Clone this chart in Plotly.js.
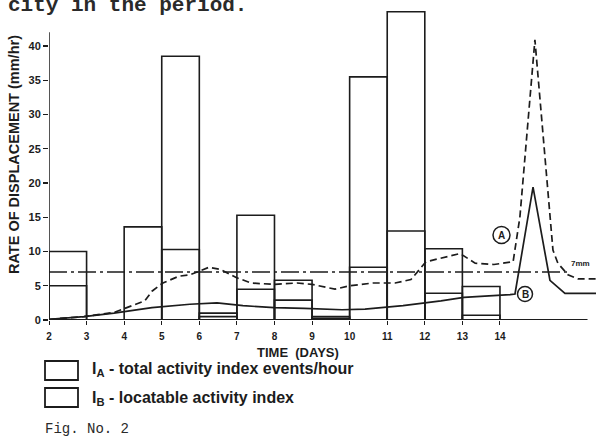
<!DOCTYPE html>
<html>
<head>
<meta charset="utf-8">
<script src="https://cdn.plot.ly/plotly-3.0.1.min.js"></script>
<style>html,body{margin:0;padding:0;background:#fff;}#chart{width:596px;height:441px;}</style>
</head>
<body>
<div id="chart"></div>
<script>
// ---- data ----
const dayStart = [2, 4, 5, 6, 7, 8, 9, 10, 11, 12, 13];          // left edge of each daily interval
const totalIndex = [10, 13.6, 38.5, 1.0, 15.3, 5.8, 0.5, 35.5, 45, 10.4, 4.9];   // I_A events/hour
const locatableIndex = [5, 0, 10.3, 0.5, 4.5, 2.9, 0.25, 7.7, 13, 3.9, 0.7];     // I_B

const curveA_days = [2.0, 2.93, 3.73, 4.34, 4.55, 4.74, 5.03, 5.46, 5.75, 6.26, 6.55, 6.98, 7.38, 7.99, 8.6, 9.0, 9.61, 10.01, 10.62, 11.21, 11.63, 12.03, 12.94, 13.34, 13.84, 14.35, 14.53, 14.93, 15.25, 15.41, 15.54, 15.81, 16.08, 16.56];
const curveA_rate = [0.1, 0.5, 1.1, 2.3, 2.8, 4.2, 5.4, 6.4, 6.6, 7.7, 7.4, 6.2, 5.4, 5.2, 5.4, 5.2, 4.5, 5.0, 5.4, 5.4, 5.9, 8.5, 9.7, 8.3, 8.1, 8.5, 15.0, 40.9, 20.0, 10.2, 8.3, 6.6, 6.0, 6.0];

const curveB_days = [2.0, 2.93, 3.73, 4.74, 5.75, 6.47, 7.16, 7.99, 8.79, 9.8, 10.41, 11.42, 12.43, 13.04, 14.27, 14.4, 14.88, 15.33, 15.73, 16.56];
const curveB_rate = [0.1, 0.5, 1.0, 1.8, 2.3, 2.5, 2.1, 1.8, 1.7, 1.5, 1.6, 2.1, 2.8, 3.3, 3.7, 3.8, 19.4, 5.8, 3.9, 3.9];

const thresholdRate = 7;           // dash-dot "7mm" line
const thresholdDays = [2, 15.8];

const xTickDays = [2, 3, 4, 5, 6, 7, 8, 9, 10, 11, 12, 13, 14];
const yTickVals = [0, 5, 10, 15, 20, 25, 30, 35, 40];

// ---- drawing ----
const ink = '#1c1c1c';
const W = 596, H = 441, L = 49, R = 0, T = 5, B = 121;
const pw = W - L - R, ph = H - T - B;
const px = x => (x - L) / pw;           // pixel -> paper
const py = y => (H - B - y) / ph;

const traces = [
  {type: 'bar', x: dayStart, y: totalIndex, offset: 0, width: 1,
   marker: {color: 'rgba(0,0,0,0)', line: {color: ink, width: 1.6}}, hoverinfo: 'skip'},
  {type: 'bar', x: dayStart, y: locatableIndex, offset: 0, width: 1,
   marker: {color: 'rgba(0,0,0,0)', line: {color: ink, width: 1.6}}, hoverinfo: 'skip'},
  {type: 'scatter', mode: 'lines', x: thresholdDays, y: thresholdDays.map(() => thresholdRate),
   line: {color: ink, width: 1.6, dash: '18px,4px,3px,4px'}},
  {type: 'scatter', mode: 'lines', x: curveA_days, y: curveA_rate,
   line: {color: ink, width: 1.7, dash: '7px,4px'}},
  {type: 'scatter', mode: 'lines', x: curveB_days, y: curveB_rate,
   line: {color: ink, width: 1.7}}
];

const boldSans = {family: 'Liberation Sans, Arial, sans-serif', color: ink, weight: 'bold'};

const layout = {
  width: W, height: H,
  margin: {l: L, r: R, t: T, b: B, pad: 0},
  paper_bgcolor: '#ffffff', plot_bgcolor: '#ffffff',
  showlegend: false, barmode: 'overlay', bargap: 0,
  xaxis: {range: [2, 2 + pw / 37.58], tickvals: xTickDays, ticktext: xTickDays.map(String),
          ticks: 'outside', ticklen: 4, tickwidth: 1, tickcolor: ink, ticklabelstandoff: 3,
          showgrid: false, zeroline: false, showline: false,
          tickfont: Object.assign({size: 10}, boldSans)},
  yaxis: {range: [0, ph / 6.85], tickvals: yTickVals, ticktext: yTickVals.map(String),
          ticks: 'outside', ticklen: 5, tickwidth: 1.2, tickcolor: ink,
          showgrid: false, zeroline: false, showline: false,
          tickfont: Object.assign({size: 11}, boldSans)},
  shapes: [
    // axes lines
    {type: 'line', xref: 'x', yref: 'y', x0: 2, x1: 16.33, y0: 0, y1: 0, line: {color: ink, width: 2.2}},
    {type: 'line', xref: 'x', yref: 'y', x0: 2, x1: 2, y0: 0, y1: 42, line: {color: ink, width: 1.5}},
    // circled curve labels
    {type: 'circle', xref: 'paper', yref: 'paper', x0: px(493), x1: px(510), y0: py(243.5), y1: py(226.5), line: {color: ink, width: 1.5}},
    {type: 'circle', xref: 'paper', yref: 'paper', x0: px(517.5), x1: px(532.5), y0: py(301.5), y1: py(286.5), line: {color: ink, width: 1.5}},
    // legend boxes
    {type: 'rect', xref: 'paper', yref: 'paper', x0: px(45), x1: px(78), y0: py(380), y1: py(361), line: {color: ink, width: 1.8}},
    {type: 'rect', xref: 'paper', yref: 'paper', x0: px(45), x1: px(78), y0: py(407), y1: py(388), line: {color: ink, width: 1.8}}
  ],
  annotations: [
    {text: 'city in the period.', xref: 'paper', yref: 'paper', x: px(6), y: py(5), xanchor: 'left', yanchor: 'middle',
     showarrow: false, font: {family: 'Liberation Mono, monospace', size: 21, color: '#2a2a2a', weight: 'bold'}},
    {text: 'RATE OF DISPLACEMENT (mm/hr)', xref: 'paper', yref: 'paper', x: px(14), y: py(155), textangle: -90,
     xanchor: 'center', yanchor: 'middle', showarrow: false, font: Object.assign({size: 14.5}, boldSans)},
    {text: 'TIME  (DAYS)', xref: 'paper', yref: 'paper', x: px(298), y: py(352), xanchor: 'center', yanchor: 'middle',
     showarrow: false, font: Object.assign({size: 13}, boldSans)},
    {text: 'A', xref: 'paper', yref: 'paper', x: px(501.5), y: py(235), xanchor: 'center', yanchor: 'middle',
     showarrow: false, font: Object.assign({size: 10}, boldSans)},
    {text: 'B', xref: 'paper', yref: 'paper', x: px(525), y: py(294), xanchor: 'center', yanchor: 'middle',
     showarrow: false, font: Object.assign({size: 10}, boldSans)},
    {text: '7mm', xref: 'paper', yref: 'paper', x: px(580), y: py(263), xanchor: 'center', yanchor: 'middle',
     showarrow: false, font: Object.assign({size: 8}, boldSans)},
    {text: 'I<sub>A</sub> - total activity index events/hour', xref: 'paper', yref: 'paper', x: px(90), y: py(370),
     xanchor: 'left', yanchor: 'middle', showarrow: false, font: Object.assign({size: 16}, boldSans)},
    {text: 'I<sub>B</sub> - locatable activity index', xref: 'paper', yref: 'paper', x: px(90), y: py(398),
     xanchor: 'left', yanchor: 'middle', showarrow: false, font: Object.assign({size: 16}, boldSans)},
    {text: 'Fig. No. 2', xref: 'paper', yref: 'paper', x: px(43), y: py(429), xanchor: 'left', yanchor: 'middle',
     showarrow: false, font: {family: 'Liberation Mono, monospace', size: 14, color: '#2a2a2a'}}
  ]
};

Plotly.newPlot('chart', traces, layout, {staticPlot: true, displayModeBar: false});
</script>
</body>
</html>
